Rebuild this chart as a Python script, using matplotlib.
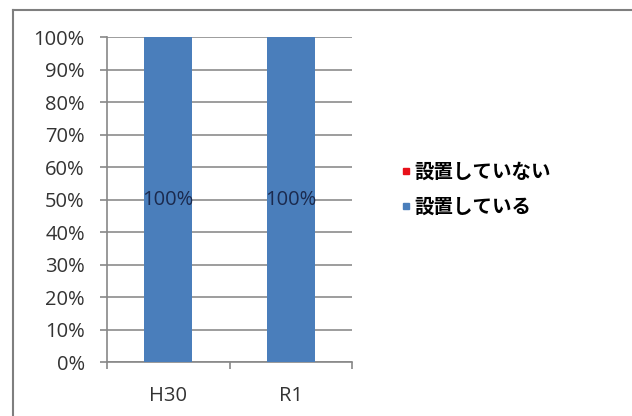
import matplotlib.pyplot as plt
from matplotlib.lines import Line2D
from matplotlib.ticker import PercentFormatter, FixedLocator
import numpy as np

plt.rcParams['font.family'] = ['Noto Sans CJK JP', 'DejaVu Sans']

# Data
categories = ["H30", "R1"]
installed = [100, 100]       # 設置している
not_installed = [0, 0]       # 設置していない
series_names = ["設置している", "設置していない"]
colors = ["#4A7EBB", "#E8101A"]

fig = plt.figure(figsize=(6.32, 4.16), dpi=100)
ax = fig.add_axes([0.1693, 0.1298, 0.3877, 0.7812])

x = np.arange(len(categories))
width = 0.39
ax.bar(x, installed, width, color=colors[0], zorder=3)
ax.bar(x, not_installed, width, bottom=installed, color=colors[1], zorder=3)

# data labels in the middle of the blue bars
for xi, v in zip(x, installed):
    ax.text(xi, v / 2, f"{v}%", ha="center", va="center", fontsize=14.5,
            color="#1B2A4E", family="Open Sans", zorder=4)

ax.set_xlim(-0.5, len(categories) - 0.5)
ax.set_ylim(0, 100)
ax.set_yticks(np.arange(0, 101, 10))
ax.yaxis.set_major_formatter(PercentFormatter(decimals=0))
ax.set_xticks(x)
ax.set_xticklabels(categories)
ax.xaxis.set_minor_locator(FixedLocator([-0.5, 0.5, 1.5]))
ax.tick_params(axis="x", which="major", length=0, pad=17, labelsize=14.5, labelcolor="#333333")
ax.tick_params(axis="x", which="minor", length=5, width=1.2, color="#888888", direction="out")
ax.tick_params(axis="y", length=5, width=1.2, color="#888888", pad=11, labelsize=14.5,
               labelcolor="#333333")
for lab in ax.get_xticklabels() + ax.get_yticklabels():
    lab.set_family("Open Sans")

ax.grid(axis="y", color="#8C8C8C", linewidth=1.2, zorder=0)
for side in ["top", "right"]:
    ax.spines[side].set_visible(False)
ax.spines["left"].set_color("#888888")
ax.spines["bottom"].set_color("#888888")
ax.spines["left"].set_linewidth(1.2)
ax.spines["bottom"].set_linewidth(1.2)

# legend (not-installed on top)
handles = [
    Line2D([], [], marker="s", linestyle="none", markersize=5, color=colors[1]),
    Line2D([], [], marker="s", linestyle="none", markersize=5, color=colors[0]),
]
fig.legend(handles, [series_names[1], series_names[0]], loc="center left",
           bbox_to_anchor=(0.607, 0.544), frameon=False,
           handlelength=0.5, handletextpad=0.2, labelspacing=0.8,
           prop={"family": "Noto Sans CJK JP", "size": 14, "weight": "bold"})

# outer frame: only top and left edges visible
fig.add_artist(Line2D([0.021, 1.0], [0.975, 0.975], transform=fig.transFigure,
                      color="#7F7F7F", linewidth=1.5))
fig.add_artist(Line2D([0.021, 0.021], [0.0, 0.975], transform=fig.transFigure,
                      color="#7F7F7F", linewidth=1.5))

fig.savefig("out.png", dpi=100)
